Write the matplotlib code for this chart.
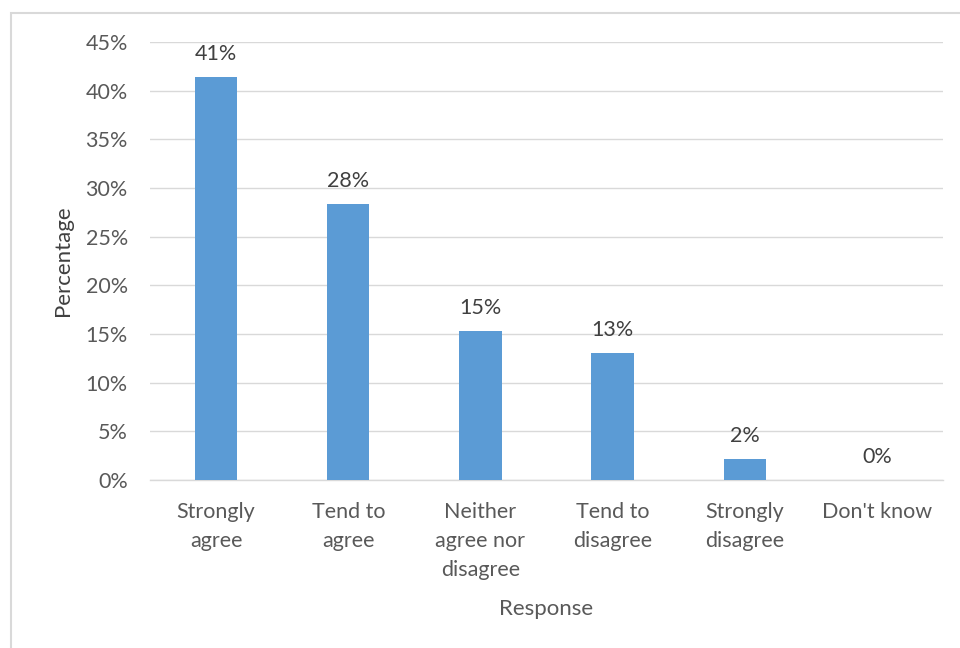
import matplotlib
matplotlib.use("Agg")
import matplotlib.pyplot as plt
from matplotlib.patches import Rectangle

categories = ["Strongly\nagree", "Tend to\nagree", "Neither\nagree nor\ndisagree", "Tend to\ndisagree", "Strongly\ndisagree", "Don't know"]
values = [41.4, 28.4, 15.3, 13.05, 2.2, 0.0]
labels = ["41%", "28%", "15%", "13%", "2%", "0%"]
yticks = [0, 5, 10, 15, 20, 25, 30, 35, 40, 45]

plt.rcParams['font.family'] = ['Lato', 'DejaVu Sans']
txt = '#595959'
fs = 15.5

fig = plt.figure(figsize=(9.6, 6.48), dpi=100)
fig.patches.append(Rectangle((11/960, -0.2), 1.2, 1.2 - 13/648, transform=fig.transFigure,
                             fill=False, edgecolor='#d9d9d9', linewidth=1.5))
ax = fig.add_axes([150/960, 1 - 480/648, (943-150)/960, (480-42)/648])

x = list(range(len(categories)))
ax.bar(x, values, width=0.32, color='#5b9bd5', zorder=3)
for xi, v, l in zip(x, values, labels):
    ax.text(xi, v + 1.3, l, ha='center', va='bottom', fontsize=fs, color='#404040')

ax.set_xlim(-0.5, len(categories) - 0.5)
ax.set_ylim(0, 45)
ax.set_yticks(yticks)
ax.set_yticklabels([f"{t}%" for t in yticks])
ax.set_xticks(x)
ax.set_xticklabels(categories, linespacing=1.55, va='top')
ax.tick_params(axis='both', length=0, labelsize=fs, colors=txt)
ax.tick_params(axis='y', pad=16)
ax.tick_params(axis='x', pad=16)
ax.grid(axis='y', color='#d9d9d9', linewidth=1, zorder=0)
for s in ['top', 'right', 'left']:
    ax.spines[s].set_visible(False)
ax.spines['bottom'].set_color('#d9d9d9')
ax.spines['bottom'].set_linewidth(1)
ax.spines['bottom'].set_zorder(1)
ax.set_ylabel("Percentage", fontsize=16, color='#404040')
ax.yaxis.set_label_coords((63 - 150) / (943 - 150), 0.5)
ax.set_xlabel("Response", fontsize=16, color='#595959')
ax.xaxis.set_label_coords(0.5, -(609 - 480) / (480 - 42))
ax.xaxis.label.set_va('center')
ax.yaxis.label.set_va('center')

fig.savefig("out.png", dpi=100)
